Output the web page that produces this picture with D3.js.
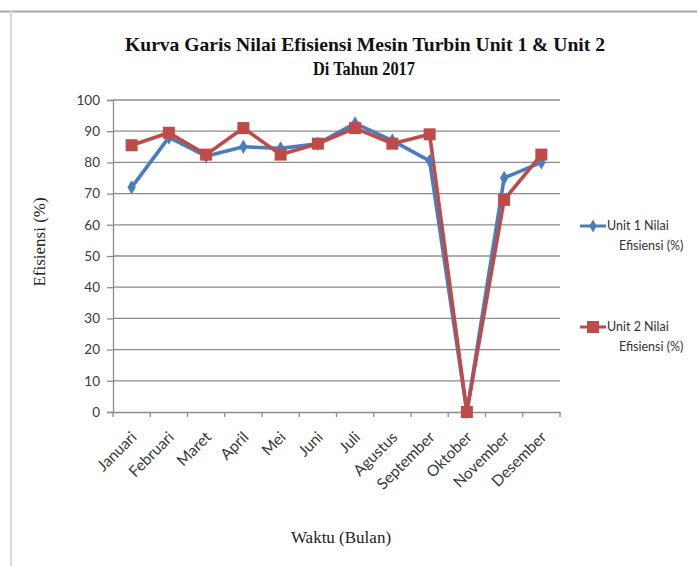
<!DOCTYPE html>
<html>
<head>
<meta charset="utf-8">
<script src="https://cdn.jsdelivr.net/npm/d3@7"></script>
<style>
  body { margin: 0; background: #fff; }
  svg { display: block; }
</style>
</head>
<body>
<div id="chart"></div>
<script>
// Data
const months = ["Januari", "Februari", "Maret", "April", "Mei", "Juni", "Juli",
  "Agustus", "September", "Oktober", "November", "Desember"];
const unit1 = [72, 88, 82, 85, 84.5, 86, 92.5, 87, 80.5, 0, 75, 80];
const unit2 = [85.5, 89.5, 82.5, 91, 82.5, 86, 91, 86, 89, 0, 68, 82.5];
const yTicks = [0, 10, 20, 30, 40, 50, 60, 70, 80, 90, 100];
const seriesNames = ["Unit 1 Nilai|Efisiensi (%)", "Unit 2 Nilai|Efisiensi (%)"];

const width = 697, height = 566;
const margin = { left: 113, right: 137, top: 100, bottom: 154 };

const svg = d3.select("#chart").append("svg")
  .attr("width", width)
  .attr("height", height);

// outer chart frame
svg.append("line").attr("x1", 0).attr("x2", width).attr("y1", 11.5).attr("y2", 11.5)
  .attr("stroke", "#a8a8a8").attr("stroke-width", 2);
svg.append("line").attr("x1", 11).attr("x2", 11).attr("y1", 11).attr("y2", 566)
  .attr("stroke", "#d8d8d8").attr("stroke-width", 2);

const x = d3.scaleBand()
  .domain(months)
  .range([margin.left, width - margin.right]);

const y = d3.scaleLinear()
  .domain([0, 100])
  .range([height - margin.bottom, margin.top]);

// horizontal gridlines
svg.append("g")
  .selectAll("line")
  .data(yTicks.slice(1))
  .join("line")
  .attr("x1", margin.left)
  .attr("x2", width - margin.right)
  .attr("y1", d => y(d))
  .attr("y2", d => y(d))
  .attr("stroke", "#8c8c8c")
  .attr("stroke-width", 1.3);

// y axis
const yAxis = svg.append("g")
  .attr("transform", `translate(${margin.left},0)`)
  .call(d3.axisLeft(y).tickValues(yTicks).tickSize(6).tickPadding(7));
yAxis.select(".domain").attr("stroke", "#8c8c8c").attr("stroke-width", 1.3);
yAxis.selectAll(".tick line").attr("stroke", "#8c8c8c").attr("stroke-width", 1.3);
yAxis.selectAll("text")
  .attr("font-family", "Lato, 'Open Sans', sans-serif")
  .attr("font-size", 13.5)
  .attr("fill", "#3a3a3a");

// x axis with ticks between categories
const xAxis = svg.append("g")
  .attr("transform", `translate(0,${y(0)})`)
  .call(d3.axisBottom(x).tickSize(0).tickSizeOuter(0));
xAxis.select(".domain").attr("stroke", "#8c8c8c").attr("stroke-width", 1.3);
xAxis.selectAll(".tick line").remove();
xAxis.append("g")
  .selectAll("line")
  .data(months.concat(["end"]))
  .join("line")
  .attr("x1", (d, i) => margin.left + i * x.bandwidth())
  .attr("x2", (d, i) => margin.left + i * x.bandwidth())
  .attr("y1", 0)
  .attr("y2", 5)
  .attr("stroke", "#8c8c8c")
  .attr("stroke-width", 1.3);
xAxis.selectAll(".tick text")
  .attr("font-family", "Lato, 'Open Sans', sans-serif")
  .attr("font-size", 15.5)
  .attr("fill", "#3a3a3a")
  .attr("text-anchor", "end")
  .attr("dy", 0)
  .attr("transform", "translate(4,24) rotate(-45)");

// lines
const line = d3.line()
  .x((d, i) => x(months[i]) + x.bandwidth() / 2)
  .y(d => y(d));

const colors = ["#4a7ebb", "#be4b48"];
const allSeries = [unit1, unit2];

allSeries.forEach((vals, s) => {
  svg.append("path")
    .datum(vals)
    .attr("fill", "none")
    .attr("stroke", colors[s])
    .attr("stroke-width", 3.6)
    .attr("stroke-linejoin", "round")
    .attr("d", line);
});

// markers
svg.append("g")
  .selectAll("path")
  .data(unit1)
  .join("path")
  .attr("transform", (d, i) => `translate(${x(months[i]) + x.bandwidth() / 2},${y(d)})`)
  .attr("d", d3.symbol(d3.symbolDiamond, 60))
  .attr("fill", colors[0]);

svg.append("g")
  .selectAll("rect")
  .data(unit2)
  .join("rect")
  .attr("x", (d, i) => x(months[i]) + x.bandwidth() / 2 - 6)
  .attr("y", d => y(d) - 6)
  .attr("width", 12)
  .attr("height", 12)
  .attr("fill", colors[1]);

// title
const title = svg.append("text")
  .attr("text-anchor", "middle")
  .attr("font-family", "Liberation Serif, 'Times New Roman', serif")
  .attr("font-weight", "bold")
  .attr("font-size", 19.5)
  .attr("fill", "#111");
title.append("tspan").attr("x", 365).attr("y", 51)
  .attr("textLength", 480).attr("lengthAdjust", "spacingAndGlyphs")
  .text("Kurva Garis Nilai Efisiensi  Mesin Turbin Unit 1 & Unit 2");
title.append("tspan").attr("x", 364).attr("y", 75)
  .attr("textLength", 102).attr("lengthAdjust", "spacingAndGlyphs")
  .text("Di Tahun 2017");

// axis titles
svg.append("text")
  .attr("transform", `translate(45,242) rotate(-90)`)
  .attr("text-anchor", "middle")
  .attr("font-family", "Liberation Serif, 'Times New Roman', serif")
  .attr("font-size", 17)
  .attr("fill", "#222")
  .text("Efisiensi (%)");

svg.append("text")
  .attr("x", 341)
  .attr("y", 543)
  .attr("text-anchor", "middle")
  .attr("font-family", "Liberation Serif, 'Times New Roman', serif")
  .attr("font-size", 17)
  .attr("fill", "#222")
  .text("Waktu (Bulan)");

// legend
const legendY = [226, 327];
seriesNames.forEach((name, s) => {
  const g = svg.append("g").attr("transform", `translate(580,${legendY[s]})`);
  g.append("line").attr("x1", 0).attr("x2", 26).attr("y1", 0).attr("y2", 0)
    .attr("stroke", colors[s]).attr("stroke-width", 3);
  if (s === 0) {
    g.append("path").attr("transform", "translate(13,0)")
      .attr("d", d3.symbol(d3.symbolDiamond, 50)).attr("fill", colors[s]);
  } else {
    g.append("rect").attr("x", 7).attr("y", -6).attr("width", 12).attr("height", 12)
      .attr("fill", colors[s]);
  }
  const parts = name.split("|");
  g.append("text")
    .attr("x", 27).attr("y", 4)
    .attr("font-family", "Lato, 'Open Sans', sans-serif")
    .attr("font-size", 12.5)
    .attr("fill", "#333")
    .text(parts[0]);
  g.append("text")
    .attr("x", 39).attr("y", 24)
    .attr("font-family", "Lato, 'Open Sans', sans-serif")
    .attr("font-size", 12.5)
    .attr("fill", "#333")
    .text(parts[1]);
});
</script>
</body>
</html>
